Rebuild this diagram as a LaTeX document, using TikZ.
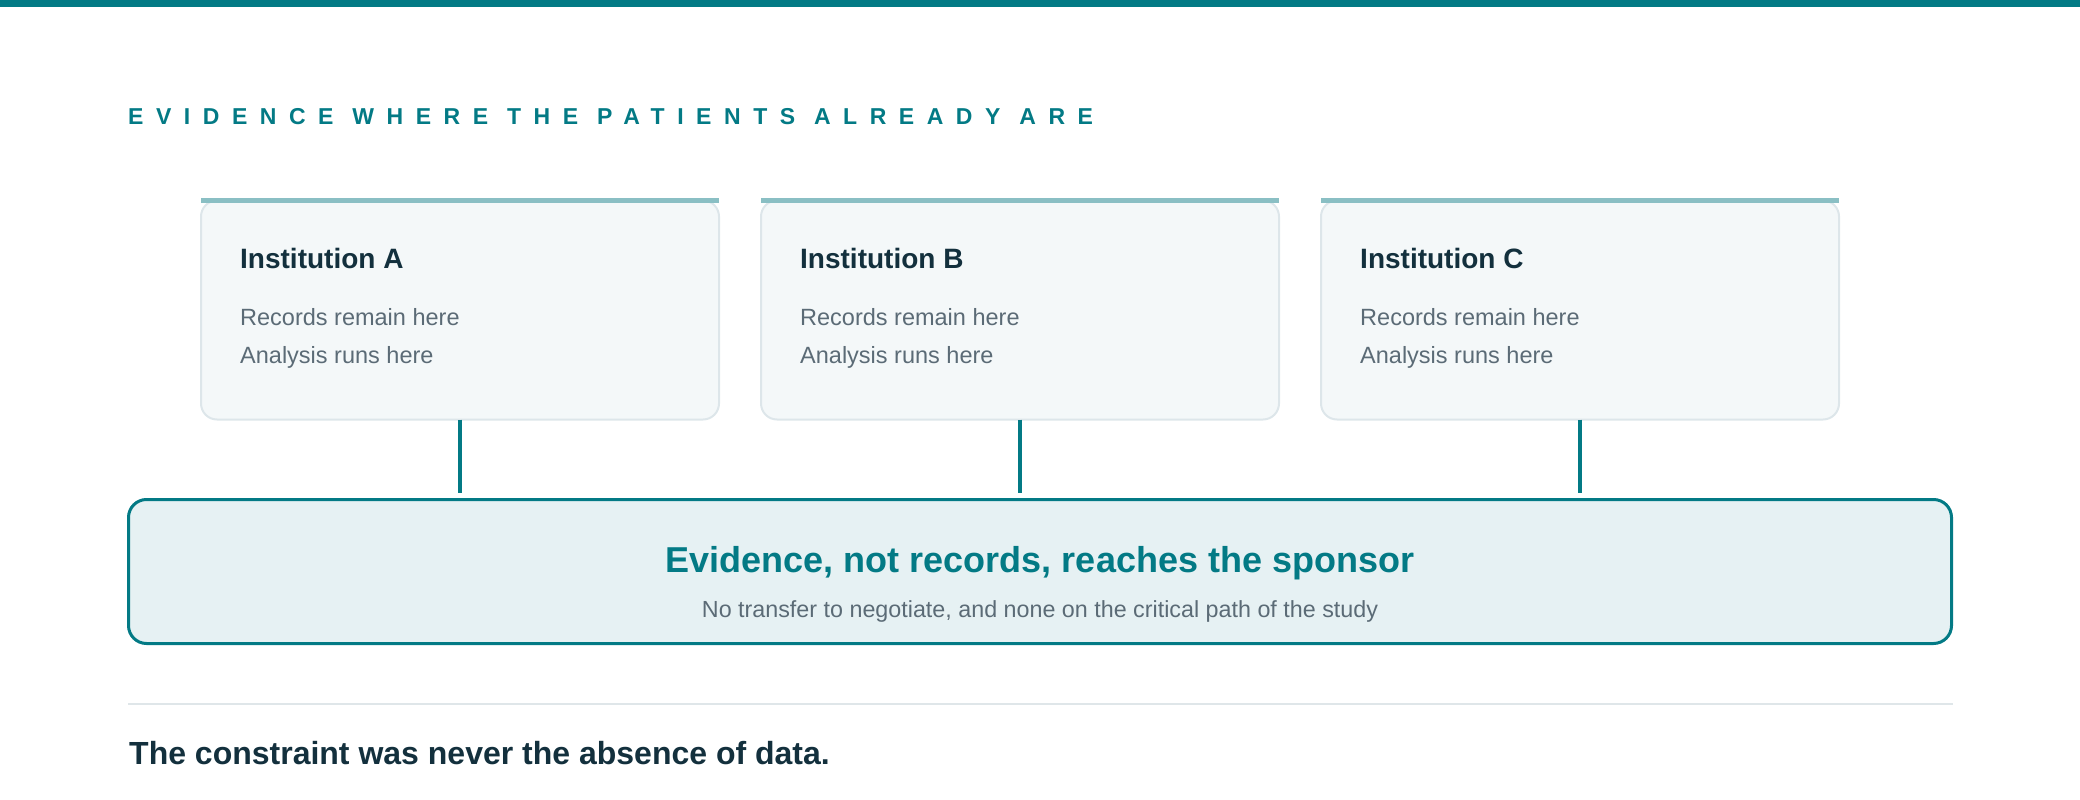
\documentclass[tikz,border=0pt]{standalone}
\usepackage{fontspec}
\setmainfont{Liberation Sans}
\usetikzlibrary{positioning}
\newlength{\du}
\setlength{\du}{1pt}
\definecolor{tealline}{RGB}{3,122,133}
\definecolor{stripcolor}{RGB}{138,191,196}
\definecolor{cardfill}{RGB}{244,248,249}
\definecolor{cardline}{RGB}{221,230,234}
\definecolor{sponsorfill}{RGB}{230,241,243}
\definecolor{darktext}{RGB}{19,48,61}
\definecolor{graytext}{RGB}{91,107,118}
\definecolor{rulecolor}{RGB}{223,230,233}
\tikzset{
  card/.style={draw=cardline, fill=cardfill, line width=2\du, rounded corners=16\du,
    minimum width=518\du, minimum height=219\du, inner sep=0pt, outer sep=0pt},
  strip/.style={draw=stripcolor, line width=5\du},
  link/.style={draw=tealline, line width=3.5\du, shorten >=7\du},
  sponsorbox/.style={draw=tealline, fill=sponsorfill, line width=3\du, rounded corners=18\du,
    minimum width=1823\du, minimum height=144\du, inner sep=0pt, outer sep=0pt},
  cardtitle/.style={anchor=base west, inner sep=0pt, text=darktext,
    font=\fontsize{28}{34}\selectfont\bfseries},
  cardtext/.style={anchor=base west, inner sep=0pt, text=graytext,
    font=\fontsize{23.5}{28}\selectfont},
}

\begin{document}
\begin{tikzpicture}
\pgftransformxscale{1.000000}
\pgftransformyscale{-1.000000}
\useasboundingbox (0\du,0\du) rectangle (2080\du,800\du);
% top band
\fill[tealline] (0\du,0\du) rectangle (2080\du,7\du);
% heading
\node[anchor=base west, inner sep=0pt, text=tealline,
  font=\fontsize{23}{28}\selectfont\bfseries\addfontfeature{LetterSpace=54.5}]
  (heading) at (128\du,124\du) {EVIDENCE WHERE THE PATIENTS ALREADY ARE};
% institutions
\node[card] (instA) at (460\du,310\du) {};
\node[card] (instB) [right=42\du of instA] {};
\node[card] (instC) [right=42\du of instB] {};
\draw[strip] (instA.north west) -- (instA.north east);
\draw[strip] (instB.north west) -- (instB.north east);
\draw[strip] (instC.north west) -- (instC.north east);
\node[cardtitle] (titleA) at (240\du,268\du) {Institution A};
\node[cardtext] (recA) at (240\du,325\du) {Records remain here};
\node[cardtext] (runA) at (240\du,363\du) {Analysis runs here};
\node[cardtitle] (titleB) at (800\du,268\du) {Institution B};
\node[cardtext] (recB) at (800\du,325\du) {Records remain here};
\node[cardtext] (runB) at (800\du,363\du) {Analysis runs here};
\node[cardtitle] (titleC) at (1360\du,268\du) {Institution C};
\node[cardtext] (recC) at (1360\du,325\du) {Records remain here};
\node[cardtext] (runC) at (1360\du,363\du) {Analysis runs here};
% sponsor
\node[sponsorbox] (sponsor) at (1040\du,571.5\du) {};
\node[anchor=base, inner sep=0pt, text=tealline, font=\fontsize{36}{42}\selectfont\bfseries]
  (sponsortitle) at (1040\du,572\du) {Evidence, not records, reaches the sponsor};
\node[anchor=base, inner sep=0pt, text=graytext, font=\fontsize{23.3}{28}\selectfont]
  (sponsornote) at (1040\du,617\du) {No transfer to negotiate, and none on the critical path of the study};
\draw[link] (instA.south) -- (instA.south |- sponsor.north);
\draw[link] (instB.south) -- (instB.south |- sponsor.north);
\draw[link] (instC.south) -- (instC.south |- sponsor.north);
% closing line
\draw[rulecolor, line width=2\du] (128\du,704\du) -- (1953\du,704\du);
\node[anchor=base west, inner sep=0pt, text=darktext, font=\fontsize{32}{38}\selectfont\bfseries]
  (closing) at (129\du,764\du) {The constraint was never the absence of data.};
\end{tikzpicture}
\end{document}
